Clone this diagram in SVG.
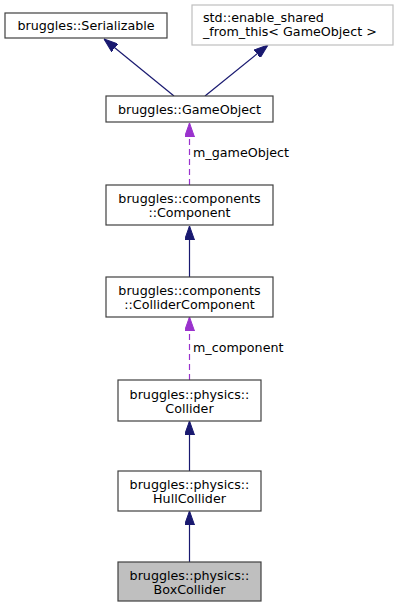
<svg xmlns="http://www.w3.org/2000/svg" width="400" height="608" viewBox="0 0 400 608">
<style>
.n{fill:#ffffff;stroke:#404040;stroke-width:1.2}
.g{fill:#ffffff;stroke:#bfbfbf;stroke-width:1.2}
.h{fill:#bfbfbf;stroke:#404040;stroke-width:1.2}
text{font-family:"DejaVu Sans","Liberation Sans",sans-serif;font-size:12.7px;fill:#000000}
.c{text-anchor:middle}
.inh{stroke:#191970;stroke-width:1.2;fill:none}
.use{stroke:#9a32cd;stroke-width:1.2;fill:none;stroke-dasharray:6,4}
</style>
<defs>
<marker id="ab" viewBox="0 0 14 10" refX="14" refY="5" markerWidth="14" markerHeight="10" markerUnits="userSpaceOnUse" orient="auto"><path d="M0,0 L14,5 L0,10 z" fill="#191970" stroke="#191970"/></marker>
<marker id="ap" viewBox="0 0 14 10" refX="14" refY="5" markerWidth="14" markerHeight="10" markerUnits="userSpaceOnUse" orient="auto"><path d="M0,0 L14,5 L0,10 z" fill="#9a32cd" stroke="#9a32cd"/></marker>
</defs>
<g id="connectors">
<path class="inh" d="M174,96 L104,39" marker-end="url(#ab)"/>
<path class="inh" d="M205,96 L268,45" marker-end="url(#ab)"/>
<path class="use" d="M189.5,185 L189.5,123" marker-end="url(#ap)"/>
<text x="193" y="157">m_gameObject</text>
<path class="inh" d="M189.5,277 L189.5,226" marker-end="url(#ab)"/>
<path class="use" d="M189.5,380 L189.5,317" marker-end="url(#ap)"/>
<text x="193" y="352">m_component</text>
<path class="inh" d="M189.5,471 L189.5,421" marker-end="url(#ab)"/>
<path class="inh" d="M189.5,562 L189.5,511" marker-end="url(#ab)"/>
</g>
<g id="Serializable">
<rect class="n" x="5" y="13" width="162" height="25"/>
<text class="c" x="86" y="30">bruggles::Serializable</text>
</g>
<g id="enable_shared">
<rect class="g" x="192" y="5" width="201" height="40"/>
<text x="203" y="22">std::enable_shared</text>
<text x="203" y="36">_from_this&lt; GameObject &gt;</text>
</g>
<g id="GameObject">
<rect class="n" x="106" y="96" width="167" height="26"/>
<text class="c" x="189.5" y="113.5">bruggles::GameObject</text>
</g>
<g id="Component">
<rect class="n" x="106" y="185" width="167" height="40"/>
<text class="c" x="189.5" y="203">bruggles::components</text>
<text class="c" x="189.5" y="217">::Component</text>
</g>
<g id="ColliderComponent">
<rect class="n" x="106" y="277" width="167" height="40"/>
<text class="c" x="189.5" y="295">bruggles::components</text>
<text class="c" x="189.5" y="309">::ColliderComponent</text>
</g>
<g id="Collider">
<rect class="n" x="118" y="380" width="143" height="41"/>
<text class="c" x="189.5" y="399">bruggles::physics::</text>
<text class="c" x="189.5" y="413">Collider</text>
</g>
<g id="HullCollider">
<rect class="n" x="118" y="471" width="143" height="40"/>
<text class="c" x="189.5" y="489">bruggles::physics::</text>
<text class="c" x="189.5" y="503">HullCollider</text>
</g>
<g id="BoxCollider">
<rect class="h" x="118" y="562" width="143" height="39"/>
<text class="c" x="189.5" y="580">bruggles::physics::</text>
<text class="c" x="189.5" y="594">BoxCollider</text>
</g>
</svg>
